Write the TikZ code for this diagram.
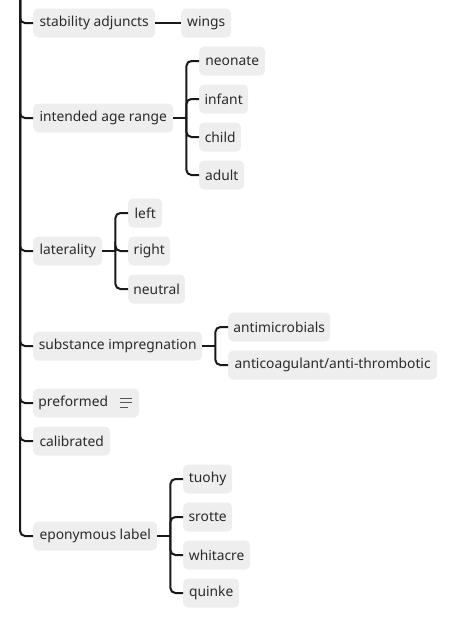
\documentclass[tikz,border=0pt]{standalone}
\usepackage{fontspec}
\setmainfont{Noto Sans}
\usetikzlibrary{calc}
\definecolor{boxfill}{HTML}{EEEEEE}
\definecolor{txt}{HTML}{2A2A2A}
\definecolor{iconc}{HTML}{555555}
\tikzset{
  box/.style={anchor=west, fill=boxfill, rounded corners=5pt, minimum height=29pt,
    inner xsep=5pt, inner ysep=0pt, text=txt, font=\fontsize{13.8}{15}\selectfont},
  conn/.style={draw=black!90, line width=2pt, rounded corners=5pt},
  icon/.style={draw=iconc, line width=1pt}
}
\begin{document}
\begin{tikzpicture}[x=1pt,y=-1pt]
\useasboundingbox (0,0) rectangle (467,643);
\coordinate (root) at (20,0);
% level 1
\node[box, minimum width=122pt] (stab) at (33,23) {stability adjuncts};
\node[box, minimum width=140pt] (age) at (33,118) {intended age range};
\node[box, minimum width=69pt] (lat) at (33,251) {laterality};
\node[box, minimum width=169pt] (sub) at (33,346) {substance impregnation};
\node[box, minimum width=106pt, align=left] (pref) at (33,403) {preformed\hspace{26pt}};
\node[box, minimum width=77pt] (cal) at (33,441) {calibrated};
\node[box, minimum width=124pt] (epo) at (33,536) {eponymous label};
% level 2
\node[box, minimum width=50pt] (wings) at (181,23) {wings};
\node[box, minimum width=66pt] (neo) at (199,61) {neonate};
\node[box, minimum width=49pt] (inf) at (199,99) {infant};
\node[box, minimum width=42pt] (chi) at (199,137) {child};
\node[box, minimum width=45pt] (adu) at (199,175) {adult};
\node[box, minimum width=34pt] (lef) at (128,213) {left};
\node[box, minimum width=42pt] (rig) at (128,251) {right};
\node[box, minimum width=57pt] (neu) at (128,289) {neutral};
\node[box, minimum width=102pt] (ant) at (228,327) {antimicrobials};
\node[box, minimum width=209pt] (aco) at (228,365) {anticoagulant/anti-thrombotic};
\node[box, minimum width=49pt] (tuo) at (183,479) {tuohy};
\node[box, minimum width=49pt] (sro) at (183,517) {srotte};
\node[box, minimum width=67pt] (whi) at (183,555) {whitacre};
\node[box, minimum width=56pt] (qui) at (183,593) {quinke};
% icon
\draw[icon] ($(pref.east)+(-19,-5)$) -- ++(12,0);
\draw[icon] ($(pref.east)+(-19,-0.5)$) -- ++(12,0);
\draw[icon] ($(pref.east)+(-19,4)$) -- ++(8,0);
% trunk
\foreach \n in {stab,age,lat,sub,pref,cal,epo} \draw[conn] (root) |- (\n.west);
% stability
\draw[conn] (stab.east) -- (wings.west);
% junctions
\coordinate (ja) at ($(age.east)+(13,0)$);
\coordinate (jl) at ($(lat.east)+(13,0)$);
\coordinate (js) at ($(sub.east)+(13,0)$);
\coordinate (je) at ($(epo.east)+(13,0)$);
\draw[conn] (age.east) -- (ja);
\draw[conn] (lat.east) -- (jl);
\draw[conn] (sub.east) -- (js);
\draw[conn] (epo.east) -- (je);
\foreach \n in {neo,inf,chi,adu} \draw[conn] (ja) |- (\n.west);
\foreach \n in {lef,rig,neu} \draw[conn] (jl) |- (\n.west);
\foreach \n in {ant,aco} \draw[conn] (js) |- (\n.west);
\foreach \n in {tuo,sro,whi,qui} \draw[conn] (je) |- (\n.west);
\end{tikzpicture}
\end{document}
